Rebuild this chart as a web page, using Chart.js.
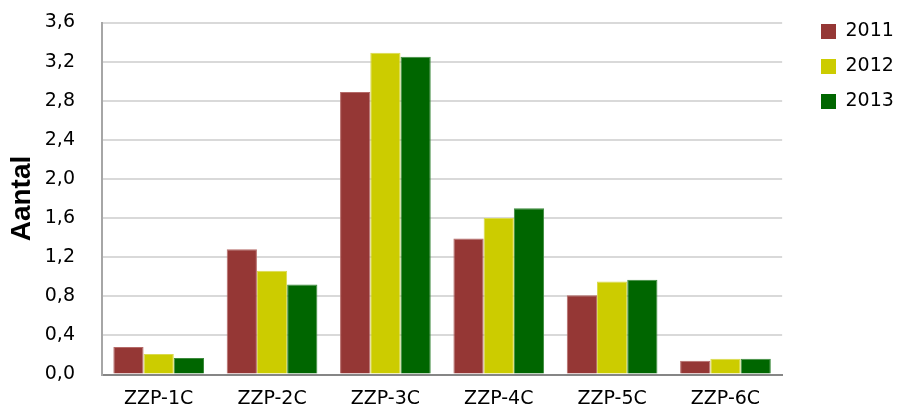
<!DOCTYPE html>
<html>
<head>
<meta charset="utf-8">
<script src="https://cdn.jsdelivr.net/npm/chart.js@4/dist/chart.umd.min.js"></script>
<style>
html,body{margin:0;padding:0;background:#fff;}
#wrap{width:898px;height:408px;position:relative;}
</style>
</head>
<body>
<div id="wrap"><canvas id="c"></canvas></div>
<script>
const categories = ['ZZP-1C','ZZP-2C','ZZP-3C','ZZP-4C','ZZP-5C','ZZP-6C'];
const seriesNames = ['2011','2012','2013'];
const values2011 = [0.28, 1.28, 2.89, 1.39, 0.81, 0.14];
const values2012 = [0.21, 1.06, 3.29, 1.60, 0.95, 0.16];
const values2013 = [0.17, 0.92, 3.25, 1.70, 0.97, 0.16];
const yTicks = [0,0.4,0.8,1.2,1.6,2.0,2.4,2.8,3.2,3.6];
const colors = ['#953735','#CCCC00','#006600'];
const edgeColors = ['#B56A68','#DADA4D','#3D8A3D'];

const legendShift = {
  id: 'legendShift',
  afterLayout(chart) {
    const lg = chart.legend;
    if (!lg) return;
    const dx = 805 - lg.left;
    const dy = 6 - lg.top;
    lg.left += dx; lg.right += dx;
    lg.top += dy; lg.bottom += dy;
  }
};

new Chart(document.getElementById('c'), {
  type: 'bar',
  data: {
    labels: categories,
    datasets: [
      {label: seriesNames[0], data: values2011, backgroundColor: colors[0], borderColor: edgeColors[0], borderWidth: 1},
      {label: seriesNames[1], data: values2012, backgroundColor: colors[1], borderColor: edgeColors[1], borderWidth: 1},
      {label: seriesNames[2], data: values2013, backgroundColor: colors[2], borderColor: edgeColors[2], borderWidth: 1}
    ]
  },
  options: {
    responsive: true,
    maintainAspectRatio: false,
    animation: false,
    layout: {padding: {left: 8.5, top: 22.5, bottom: 0, right: 17}},
    datasets: {bar: {categoryPercentage: 0.8, barPercentage: 1.0}},
    plugins: {
      legend: {
        position: 'right',
        align: 'start',
        labels: {
          boxWidth: 15, boxHeight: 15, padding: 16,
          color: '#000',
          font: {family: 'DejaVu Sans', size: 19},
          generateLabels(chart) {
            return chart.data.datasets.map((ds, i) => ({
              text: ds.label, fillStyle: ds.backgroundColor, strokeStyle: ds.backgroundColor,
              lineWidth: 0, hidden: false, datasetIndex: i, fontColor: '#000'
            }));
          }
        }
      },
      tooltip: {enabled: false}
    },
    scales: {
      x: {
        grid: {display: false, drawTicks: false},
        border: {display: true, color: '#868686', width: 2},
        ticks: {color: '#000', padding: 15, font: {family: 'DejaVu Sans', size: 19, lineHeight: 1}},
        afterFit(scale) { scale.height = 33.5; }
      },
      y: {
        min: 0, max: 3.6,
        afterBuildTicks(scale) { scale.ticks = yTicks.map(v => ({value: v})); },
        afterFit(scale) { scale.width = 93.5; scale.paddingTop = 0; scale.paddingBottom = 0; },
        grid: {color: '#D9D9D9', lineWidth: 2, drawTicks: false},
        border: {display: true, color: '#A6A6A6', width: 2},
        ticks: {
          color: '#000', padding: 27,
          font: {family: 'DejaVu Sans', size: 19, lineHeight: 1},
          callback: (v) => Number(v).toFixed(1).replace('.', ',')
        },
        title: {
          display: true, text: 'Aantal', color: '#000',
          font: {family: 'Liberation Sans', size: 28, weight: 'bold', lineHeight: 1},
          padding: {top: 0, bottom: 10}
        }
      }
    }
  },
  plugins: [legendShift]
});
</script>
</body>
</html>
